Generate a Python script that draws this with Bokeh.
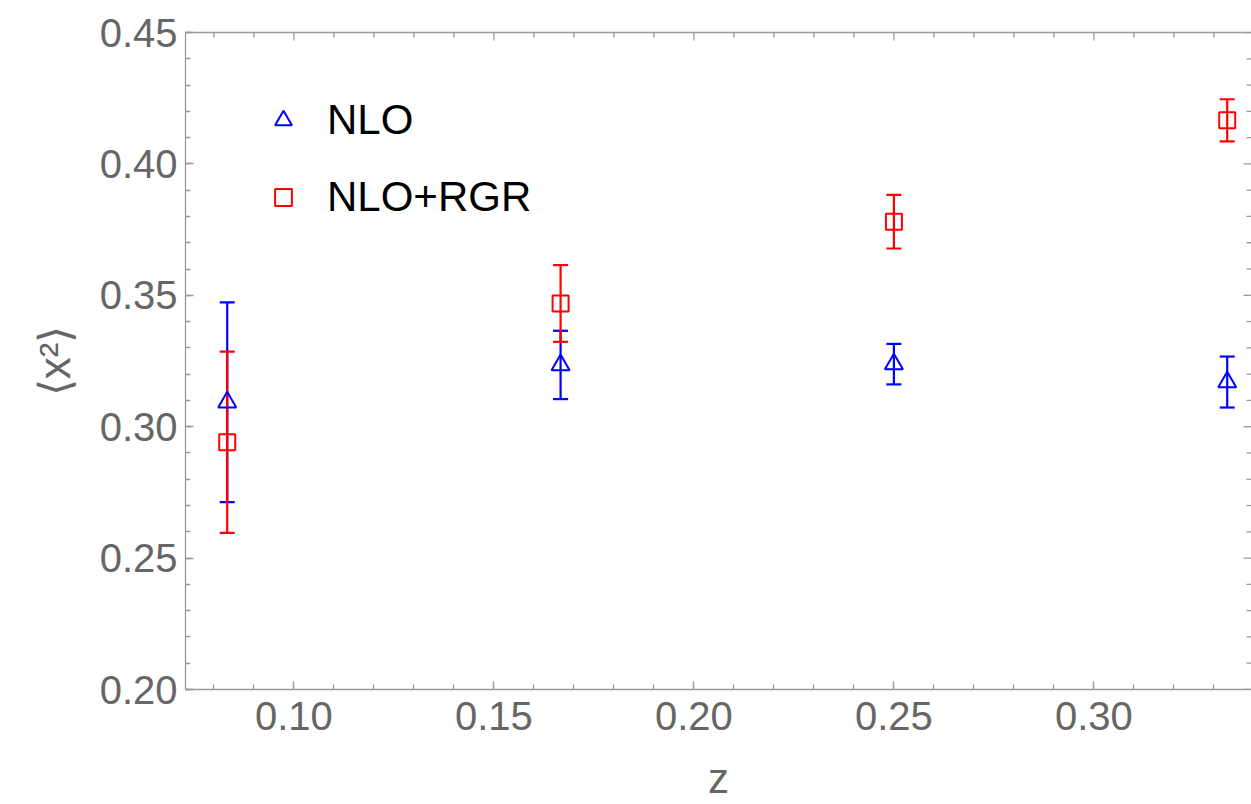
from bokeh.plotting import figure
from bokeh.models import (ColumnDataSource, Whisker, TeeHead, LinearAxis, FixedTicker,
                          Range1d, Legend, LegendItem, NumeralTickFormatter)
from bokeh.embed import file_html
from bokeh.resources import INLINE

# ---- data ----
z = [0.08333, 0.16667, 0.25, 0.33333]
nlo = [0.3093, 0.3235, 0.3238, 0.3170]
nlo_err = [0.0380, 0.0130, 0.0077, 0.0097]
rgr = [0.2941, 0.3469, 0.3780, 0.4166]
rgr_err = [0.0345, 0.0146, 0.0102, 0.0080]
series_names = ["NLO", "NLO+RGR"]
x_major = [0.10, 0.15, 0.20, 0.25, 0.30]
x_minor = [round(0.07 + 0.01 * i, 2) for i in range(28)]
y_major = [0.20, 0.25, 0.30, 0.35, 0.40, 0.45]
y_minor = [round(0.20 + 0.01 * i, 2) for i in range(26)]

BLUE = "#0000ff"
RED = "#ff0000"
AX = "#9a9a9a"
LAB = "#666666"
FONT = "Liberation Sans"

W, H = 1251, 804
BL, BT, BR, BB = 185, 32, 0, 114
FW, FH = W - BL - BR, H - BT - BB
MAJ, MIN = 8, 5

src_nlo = ColumnDataSource(dict(x=z, y=nlo,
                                lo=[a - b for a, b in zip(nlo, nlo_err)],
                                hi=[a + b for a, b in zip(nlo, nlo_err)]))
src_rgr = ColumnDataSource(dict(x=z, y=rgr,
                                lo=[a - b for a, b in zip(rgr, rgr_err)],
                                hi=[a + b for a, b in zip(rgr, rgr_err)]))

p = figure(width=W, height=H, output_backend="svg", toolbar_location=None,
           x_range=Range1d(0.0729, 0.3394), y_range=Range1d(0.20, 0.45),
           min_border_left=BL, min_border_top=BT, min_border_right=BR,
           min_border_bottom=BB)
p.outline_line_color = None
p.xgrid.visible = False
p.ygrid.visible = False
p.background_fill_color = "white"
p.border_fill_color = "white"
p.extra_x_ranges = {"ux": Range1d(0, 1)}
p.extra_y_ranges = {"uy": Range1d(0, 1)}

xt = FixedTicker(ticks=x_major, minor_ticks=x_minor)
yt = FixedTicker(ticks=y_major, minor_ticks=y_minor)

def style_axis(ax, ticker):
    ax.ticker = ticker
    ax.axis_line_color = AX
    ax.axis_line_width = 1.3
    ax.major_tick_line_color = AX
    ax.minor_tick_line_color = AX
    ax.major_tick_line_width = 1.3
    ax.minor_tick_line_width = 1.3
    ax.major_tick_in = MAJ
    ax.major_tick_out = 0
    ax.minor_tick_in = MIN
    ax.minor_tick_out = 0
    ax.formatter = NumeralTickFormatter(format="0.00")
    ax.major_label_text_font = FONT
    ax.major_label_text_font_size = "40px"
    ax.major_label_text_color = LAB
    ax.axis_label_text_font = FONT
    ax.axis_label_text_font_style = "normal"
    ax.axis_label_text_color = LAB

xa = p.xaxis[0]
style_axis(xa, xt)
xa.axis_label = "z"
xa.axis_label_text_font_size = "42px"
xa.major_label_standoff = 12
xa.axis_label_standoff = 22

ya = p.yaxis[0]
style_axis(ya, yt)
ya.axis_label = "\u27e8x\u00b2\u27e9"
ya.axis_label_text_font_size = "44px"
ya.major_label_standoff = 8
ya.axis_label_standoff = 18

# top frame line (no ticks/labels on the axis itself)
top = LinearAxis(ticker=FixedTicker(ticks=[], minor_ticks=[]), axis_line_color=AX,
                 axis_line_width=1.3, major_tick_in=0, major_tick_out=0,
                 minor_tick_in=0, minor_tick_out=0)
p.add_layout(top, "above")

# mirrored ticks on the top and right edges of the frame
top_ticks = x_major + [t for t in x_minor if all(abs(t - m) > 1e-9 for m in x_major)]
top_len = [MAJ / FH] * len(x_major) + [MIN / FH] * (len(top_ticks) - len(x_major))
p.segment(x0=top_ticks, x1=top_ticks, y0=[1 - l for l in top_len], y1=[1] * len(top_ticks),
          y_range_name="uy", line_color=AX, line_width=1.3)
right_ticks = y_major + [t for t in y_minor if all(abs(t - m) > 1e-9 for m in y_major)]
right_len = [MAJ / FW] * len(y_major) + [MIN / FW] * (len(right_ticks) - len(y_major))
p.segment(x0=[1 - l for l in right_len], x1=[1] * len(right_ticks), y0=right_ticks, y1=right_ticks,
          x_range_name="ux", line_color=AX, line_width=1.3)

for src, col in ((src_nlo, BLUE), (src_rgr, RED)):
    w = Whisker(base="x", upper="hi", lower="lo", source=src, dimension="height",
                line_color=col, line_width=2.2,
                upper_head=TeeHead(size=15, line_color=col, line_width=2.2),
                lower_head=TeeHead(size=15, line_color=col, line_width=2.2))
    p.add_layout(w)

r1 = p.scatter("x", "y", source=src_nlo, marker="triangle", size=18,
               fill_color=None, line_color=BLUE, line_width=2)
r2 = p.scatter("x", "y", source=src_rgr, marker="square", size=16,
               fill_color=None, line_color=RED, line_width=2)

legend = Legend(items=[LegendItem(label=series_names[0], renderers=[r1]),
                       LegendItem(label=series_names[1], renderers=[r2])],
                location=(77, 468), padding=0, margin=0, spacing=29,
                glyph_width=42, glyph_height=42, label_standoff=23,
                label_text_font=FONT, label_text_font_size="42px",
                label_text_color="black", border_line_color=None,
                background_fill_alpha=0)
p.add_layout(legend)

open("out.html", "w").write(file_html(p, INLINE))
